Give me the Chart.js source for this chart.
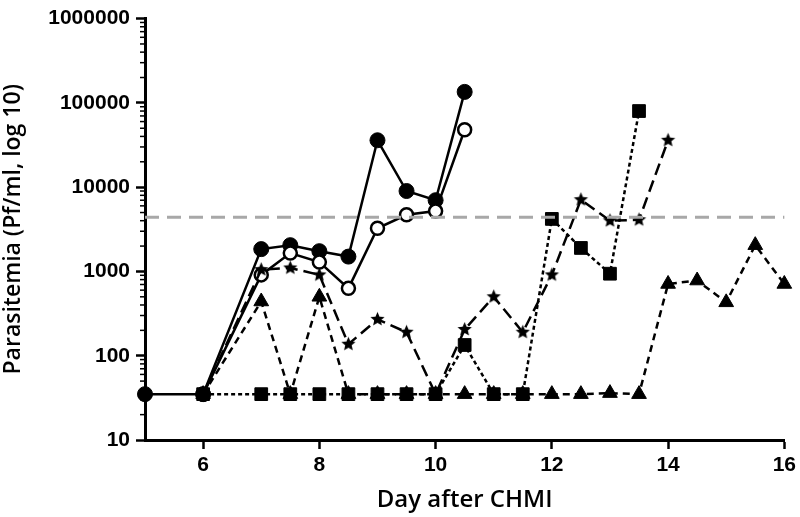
<!DOCTYPE html>
<html>
<head>
<meta charset="utf-8">
<script src="https://cdn.jsdelivr.net/npm/chart.js@4"></script>
<style>
  html, body { margin: 0; background: #fff; }
  #wrap { width: 800px; height: 517px; }
</style>
</head>
<body>
<div id="wrap"><canvas id="chart"></canvas></div>
<script>
// Données (parasitémie en Pf/ml)
const filledDays = [5, 6, 7, 7.5, 8, 8.5, 9, 9.5, 10, 10.5];
const filledValues = [35, 35, 1840, 2050, 1740, 1500, 36000, 9000, 7000, 135000];

const openDays = [6, 7, 7.5, 8, 8.5, 9, 9.5, 10, 10.5];
const openValues = [35, 910, 1650, 1290, 630, 3250, 4700, 5200, 48000];

const starDays = [6, 7, 7.5, 8, 8.5, 9, 9.5, 10, 10.5, 11, 11.5, 12, 12.5, 13, 13.5, 14];
const starValues = [35, 1050, 1100, 910, 137, 270, 190, 35, 205, 500, 190, 910, 7100, 4000, 4100, 36000];

const squareDays = [6, 7, 7.5, 8, 8.5, 9, 9.5, 10, 10.5, 11, 11.5, 12, 12.5, 13, 13.5];
const squareValues = [35, 35, 35, 35, 35, 35, 35, 35, 134, 35, 35, 4200, 1900, 940, 80000];

const triangleDays = [6, 7, 7.5, 8, 8.5, 9, 9.5, 10, 10.5, 11, 11.5, 12, 12.5, 13, 13.5, 14, 14.5, 15, 15.5, 16];
const triangleValues = [35, 440, 35, 500, 35, 35, 35, 35, 35, 35, 35, 35, 35, 36, 35, 710, 780, 430, 2050, 710];

const thresholdDays = [5, 16];
const thresholdValues = [4400, 4400];

const xTicks = [6, 8, 10, 12, 14, 16];
const yTicks = [10, 100, 1000, 10000, 100000, 1000000];

const toPoints = (xs, ys) => xs.map((x, i) => ({ x: x, y: ys[i] }));

// Étoile pleine pour le marqueur (le style 'star' de Chart.js n'est pas rempli)
const makeStar = (r) => {
  const c = document.createElement("canvas");
  c.width = c.height = 2 * r + 2;
  const g = c.getContext("2d");
  g.fillStyle = "#000";
  g.beginPath();
  for (let i = 0; i < 10; i++) {
    const a = -Math.PI / 2 + (i * Math.PI) / 5;
    const rr = i % 2 ? r * 0.45 : r;
    g.lineTo(r + 1 + rr * Math.cos(a), r + 1 + rr * Math.sin(a));
  }
  g.closePath();
  g.fill();
  return c;
};
const starImg = makeStar(7.5);

// Petites graduations mineures sur l'axe log
const minorTicks = {
  id: "minorTicks",
  afterDraw(chart) {
    const y = chart.scales.y;
    const ctx = chart.ctx;
    ctx.save();
    ctx.strokeStyle = "#000";
    ctx.lineWidth = 1.5;
    for (let p = 1; p < 6; p++) {
      for (let k = 2; k < 10; k++) {
        const py = y.getPixelForValue(k * Math.pow(10, p));
        ctx.beginPath();
        ctx.moveTo(y.right - 5, py);
        ctx.lineTo(y.right, py);
        ctx.stroke();
      }
    }
    ctx.restore();
  },
};

const lineBase = {
  borderColor: "#000",
  backgroundColor: "#000",
  pointBorderColor: "#000",
  pointBackgroundColor: "#000",
  borderWidth: 2.5,
  clip: false,
  tension: 0,
};

const ctx = document.getElementById("chart").getContext("2d");
new Chart(ctx, {
  type: "line",
  data: {
    datasets: [
      {
        ...lineBase,
        data: toPoints(thresholdDays, thresholdValues),
        borderColor: "#a8a8a8",
        borderWidth: 3,
        borderDash: [14, 8],
        pointRadius: 0,
      },
      {
        ...lineBase,
        data: toPoints(triangleDays, triangleValues),
        borderDash: [7, 5],
        pointStyle: "triangle",
        pointRadius: 8.5,
        pointBorderWidth: 1,
      },
      {
        ...lineBase,
        data: toPoints(squareDays, squareValues),
        borderDash: [4, 3],
        pointStyle: "rect",
        pointRadius: 9,
        pointBorderWidth: 1,
      },
      {
        ...lineBase,
        data: toPoints(starDays, starValues),
        borderDash: [12, 6],
        pointStyle: starImg,
      },
      {
        ...lineBase,
        data: toPoints(openDays, openValues),
        pointStyle: "circle",
        pointRadius: 6.5,
        pointBorderWidth: 2.5,
        pointBackgroundColor: "#fff",
      },
      {
        ...lineBase,
        data: toPoints(filledDays, filledValues),
        pointStyle: "circle",
        pointRadius: 7.5,
        pointBorderWidth: 1,
      },
    ],
  },
  options: {
    animation: false,
    responsive: true,
    maintainAspectRatio: false,
    layout: { padding: { top: 14, right: 12, left: 0, bottom: 0 } },
    plugins: { legend: { display: false }, tooltip: { enabled: false } },
    scales: {
      x: {
        type: "linear",
        min: 5,
        max: 16,
        afterBuildTicks: (s) => { s.ticks = xTicks.map((v) => ({ value: v })); },
        afterFit: (s) => { s.height = 77; },
        border: { color: "#000", width: 3 },
        grid: { drawOnChartArea: false, drawTicks: true, tickLength: 9, tickColor: "#000", tickWidth: 2.5 },
        ticks: {
          color: "#000",
          padding: 4,
          font: { family: "Liberation Sans", size: 21, weight: "bold" },
        },
        title: {
          display: true,
          text: "Day after CHMI",
          color: "#000",
          padding: { top: 0, bottom: 2 },
          font: { family: "Open Sans", size: 24, weight: "600" },
        },
      },
      y: {
        type: "logarithmic",
        min: 10,
        max: 1000000,
        afterBuildTicks: (s) => { s.ticks = yTicks.map((v) => ({ value: v })); },
        afterFit: (s) => { s.width = 145; },
        border: { color: "#000", width: 3 },
        grid: { drawOnChartArea: false, drawTicks: true, tickLength: 9, tickColor: "#000", tickWidth: 2.5 },
        ticks: {
          color: "#000",
          padding: 6,
          autoSkip: false,
          callback: (v) => String(v),
          font: { family: "Liberation Sans", size: 21, weight: "bold" },
        },
        title: {
          display: true,
          text: "Parasitemia (Pf/ml, log 10)",
          color: "#000",
          padding: { top: 0, bottom: 0 },
          font: { family: "Open Sans", size: 23, weight: "600" },
        },
      },
    },
  },
  plugins: [minorTicks],
});
</script>
</body>
</html>
